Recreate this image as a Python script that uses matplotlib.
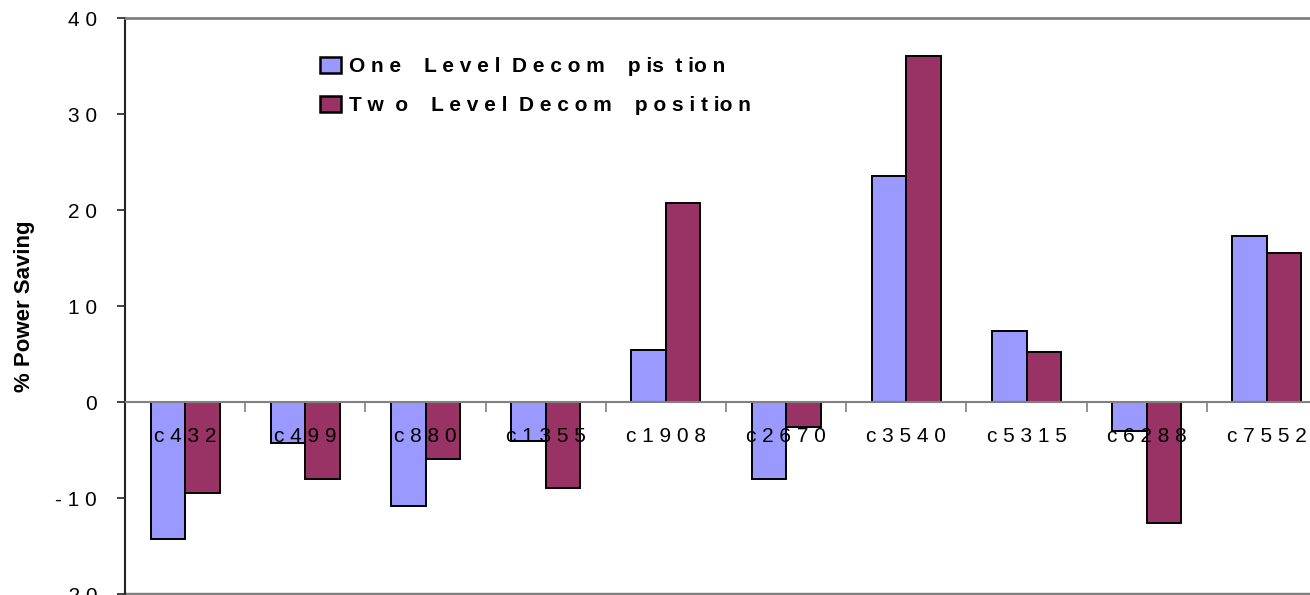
import matplotlib
matplotlib.use('Agg')
import matplotlib.pyplot as plt
import numpy as np
from matplotlib.patches import Patch

plt.rcParams['font.family'] = ['Liberation Sans', 'DejaVu Sans']

circuits = ['c432', 'c499', 'c880', 'c1355', 'c1908', 'c2670', 'c3540', 'c5315', 'c6288', 'c7552']
one_level = [-14.3, -4.3, -10.8, -4.1, 5.4, -8.0, 23.6, 7.4, -3.0, 17.3]
two_level = [-9.5, -8.0, -5.9, -9.0, 20.8, -2.6, 36.1, 5.2, -12.6, 15.5]
yticks = [-20, -10, 0, 10, 20, 30, 40]
legend_labels = ['O n e    L e v e l  D e c o m    p is  t io n',
                 'T w  o    L e v e l  D e c o m    p o s i t io n']

blue = '#9999FF'
plum = '#993366'
grey = '#808080'

def spaced(s):
    return ' '.join(str(s))

W, H = 1310, 595
fig = plt.figure(figsize=(W / 100, H / 100), dpi=100)
ax = fig.add_axes([125 / W, 1 / H, 1202 / W, (594 - 18.3) / H])
ax.set_axisbelow(False)

x = np.arange(len(circuits))
bw = 0.287
ax.bar(x - bw / 2, one_level, bw, color=blue, edgecolor='black', linewidth=1.4, zorder=1)
ax.bar(x + bw / 2, two_level, bw, color=plum, edgecolor='black', linewidth=1.4, zorder=1)

ax.set_xlim(-0.5, len(circuits) - 0.5)
ax.set_ylim(-20, 40)

# category axis sits on the zero line, plot border stays grey
ax.spines['bottom'].set_position(('data', 0))
ax.spines['bottom'].set_color(grey)
ax.spines['bottom'].set_linewidth(1.5)
for side in ['top', 'right']:
    ax.spines[side].set_color(grey)
    ax.spines[side].set_linewidth(2)
ax.spines['left'].set_color('#222222')
ax.spines['left'].set_linewidth(1.5)
ax.axhline(-20, color=grey, linewidth=2.5, clip_on=False)

ax.set_xticks(x)
ax.set_xticklabels([spaced(c) for c in circuits], fontsize=15)
ax.set_xticks(x[:-1] + 0.5, minor=True)
ax.tick_params(axis='x', which='major', length=0, pad=18)
ax.tick_params(axis='x', which='minor', length=7, width=1.2, color=grey, direction='out')

ax.set_yticks(yticks)
ax.set_yticklabels([spaced(v).replace('-  ', '- ') for v in yticks], fontsize=15)
ax.tick_params(axis='y', length=6, width=1.3, color='#333333', pad=14)

fig.text(25 / W, 1 - 306.5 / H, '% Power Saving', rotation=90, ha='center', va='center',
         fontsize=16, fontweight='bold')

handles = [Patch(facecolor=blue, edgecolor='black', linewidth=1.8),
           Patch(facecolor=plum, edgecolor='black', linewidth=1.8)]
ax.legend(handles, legend_labels, loc='upper left', bbox_to_anchor=(320 / W, 1 - 57 / H),
          bbox_transform=fig.transFigure, frameon=False, borderpad=0, borderaxespad=0,
          prop={'size': 15, 'weight': 'bold'}, handlelength=1.0, handleheight=0.8,
          handletextpad=0.4, labelspacing=0.95)

fig.savefig('out.png', dpi=100)
